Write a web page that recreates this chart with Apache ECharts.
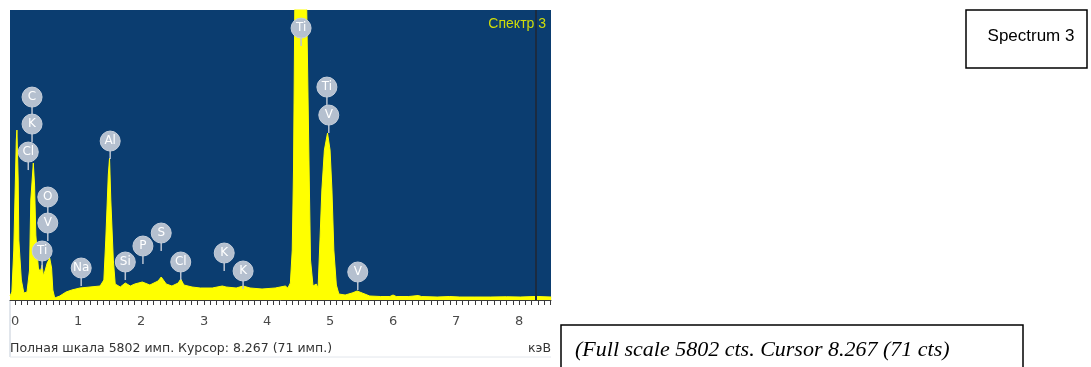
<!DOCTYPE html>
<html>
<head>
<meta charset="utf-8">
<script src="https://cdn.jsdelivr.net/npm/echarts@6/dist/echarts.min.js"></script>
<style>
  html, body { margin: 0; padding: 0; background: #ffffff; }
  #chart { width: 1091px; height: 367px; }
</style>
</head>
<body>
<div id="chart"></div>
<script>
// EDS spectrum: energy (keV) and counts (imp.)
const energy = [
  -0.08, -0.05, -0.02, 0.02, 0.03, 0.05, 0.06, 0.10, 0.14, 0.19,
  0.23, 0.25, 0.29, 0.31, 0.33, 0.37, 0.40, 0.43, 0.45, 0.48,
  0.51, 0.55, 0.58, 0.60, 0.63, 0.71, 0.81, 0.90, 1.03, 1.19,
  1.35, 1.41, 1.44, 1.48, 1.50, 1.52, 1.56, 1.59, 1.67, 1.75,
  1.83, 1.90, 2.02, 2.14, 2.27, 2.32, 2.40, 2.49, 2.59, 2.63,
  2.68, 2.81, 2.94, 3.13, 3.29, 3.35, 3.51, 3.62, 3.73, 3.92,
  4.13, 4.29, 4.33, 4.37, 4.40, 4.42, 4.44, 4.49, 4.54, 4.59,
  4.63, 4.67, 4.69, 4.73, 4.78, 4.81, 4.84, 4.87, 4.91, 4.96,
  5.00, 5.03, 5.06, 5.10, 5.14, 5.24, 5.35, 5.43, 5.51, 5.63,
  5.80, 5.95, 6.00, 6.05, 6.25, 6.40, 6.45, 6.70, 6.90, 7.06,
  7.30, 7.55, 7.80, 8.02, 8.27, 8.51
];
const counts = [
  80, 160, 1000, 3200, 3400, 2400, 1200, 400, 140, 160,
  600, 2000, 2740, 2300, 1300, 640, 560, 700, 480, 600,
  740, 840, 640, 200, 40, 80, 160, 200, 240, 260,
  280, 400, 1200, 2500, 2840, 2000, 800, 320, 260, 340,
  280, 320, 360, 300, 380, 460, 320, 280, 340, 420,
  300, 260, 240, 240, 280, 260, 240, 280, 240, 220,
  240, 280, 240, 340, 1000, 2600, 5800, 9500, 11000, 9500,
  5800, 2400, 800, 280, 320, 240, 1200, 2200, 3000, 3340,
  3000, 2200, 1000, 300, 120, 100, 140, 180, 140, 80,
  70, 70, 100, 70, 70, 90, 70, 60, 70, 60,
  60, 60, 65, 60, 71, 60
];

// Element identification markers
const markerNames  = ['C', 'K', 'Cl', 'O', 'V', 'Ti', 'Na', 'Al', 'Si', 'P', 'S', 'Cl', 'K', 'K', 'Ti', 'Ti', 'V', 'V'];
const markerEnergy = [0.27, 0.27, 0.21, 0.52, 0.52, 0.43, 1.05, 1.51, 1.75, 2.03, 2.32, 2.63, 3.32, 3.62, 4.54, 4.95, 4.98, 5.44];
const markerCounts = [4060, 3520, 2960, 2060, 1540, 980, 640, 3180, 760, 1080, 1340, 760, 940, 580, 5440, 4260, 3700, 560];

// Axis ticks and labels
const axisLabels = [0, 1, 2, 3, 4, 5, 6, 7, 8];
const axisTicks = [];
for (let i = 0; i <= 85; i++) axisTicks.push(+(i / 10).toFixed(1));

const fullScale = 5802;
const cursorKeV = 8.267;

const spectrum = energy.map((e, i) => [e, counts[i]]);
const markers = markerNames.map((n, i) => [markerEnergy[i], markerCounts[i], n]);

const chart = echarts.init(document.getElementById('chart'));

chart.setOption({
  backgroundColor: '#ffffff',
  animation: false,
  grid: { left: 10, top: 10, width: 541, height: 290, show: true, backgroundColor: '#0b3d70', borderWidth: 0 },
  xAxis: {
    type: 'value', min: -0.08, max: 8.507,
    axisLine: { show: true, lineStyle: { color: '#3a3a3a', width: 1 } },
    axisTick: { show: true, customValues: axisTicks, length: 5, lineStyle: { color: '#3a3a3a', width: 1 } },
    axisLabel: { customValues: axisLabels, color: '#4a4a4a', fontSize: 13, fontFamily: 'DejaVu Sans', margin: 15 },
    splitLine: { show: false }
  },
  yAxis: {
    type: 'value', min: 0, max: fullScale, show: false, splitLine: { show: false }
  },
  series: [
    {
      type: 'line', data: spectrum, showSymbol: false, smooth: false, clip: true,
      lineStyle: { color: '#ffff00', width: 1 },
      areaStyle: { color: '#ffff00', opacity: 1 },
      markLine: {
        silent: true, symbol: ['none', 'none'], label: { show: false },
        lineStyle: { color: '#1b2b40', width: 2, type: 'solid' },
        data: [{ xAxis: cursorKeV }]
      },
      z: 2
    },
    {
      type: 'custom', data: markers, z: 5, clip: false,
      renderItem: function (params, api) {
        const p = api.coord([api.value(0), api.value(1)]);
        const name = markers[params.dataIndex][2];
        return {
          type: 'group',
          children: [
            { type: 'line', shape: { x1: p[0], y1: p[1] + 8, x2: p[0], y2: p[1] + 18 },
              style: { stroke: '#b9c3d1', lineWidth: 1.5 } },
            { type: 'circle', shape: { cx: p[0], cy: p[1], r: 10 },
              style: { fill: '#b5c0cf', stroke: '#c6cfdb', lineWidth: 1 } },
            { type: 'text', x: p[0], y: p[1],
              style: { text: name, fill: '#ffffff', font: '12px "DejaVu Sans"', align: 'center', verticalAlign: 'middle' } }
          ]
        };
      }
    }
  ],
  graphic: [
    { type: 'text', right: 1091 - 546, top: 17,
      style: { text: 'Спектр 3', fill: '#cfdc0a', font: '14px "Liberation Sans"' } },
    { type: 'line', shape: { x1: 10, y1: 300, x2: 10, y2: 357 }, style: { stroke: '#c3ccd8', lineWidth: 1 } },
    { type: 'line', shape: { x1: 10, y1: 357, x2: 551, y2: 357 }, style: { stroke: '#e2e6ec', lineWidth: 1 } },
    { type: 'text', left: 10, top: 342,
      style: { text: 'Полная шкала 5802 имп. Курсор: 8.267 (71 имп.)', fill: '#333333', font: '12.5px "DejaVu Sans"' } },
    { type: 'text', right: 1091 - 551, top: 342,
      style: { text: 'кэВ', fill: '#333333', font: '12.5px "DejaVu Sans"' } },
    { type: 'rect', shape: { x: 966, y: 10, width: 121, height: 58 },
      style: { fill: '#ffffff', stroke: '#000000', lineWidth: 1.5 } },
    { type: 'text', x: 1031, y: 36,
      style: { text: 'Spectrum 3', fill: '#000000', font: '17px "Liberation Sans"', align: 'center', verticalAlign: 'middle' } },
    { type: 'rect', shape: { x: 561, y: 325, width: 462, height: 60 },
      style: { fill: '#ffffff', stroke: '#000000', lineWidth: 1.5 } },
    { type: 'text', x: 575, y: 350,
      style: { text: '(Full scale 5802 cts. Cursor 8.267 (71 cts)', fill: '#000000', font: 'italic 22px "Liberation Serif"', verticalAlign: 'middle' } }
  ]
});
</script>
</body>
</html>
